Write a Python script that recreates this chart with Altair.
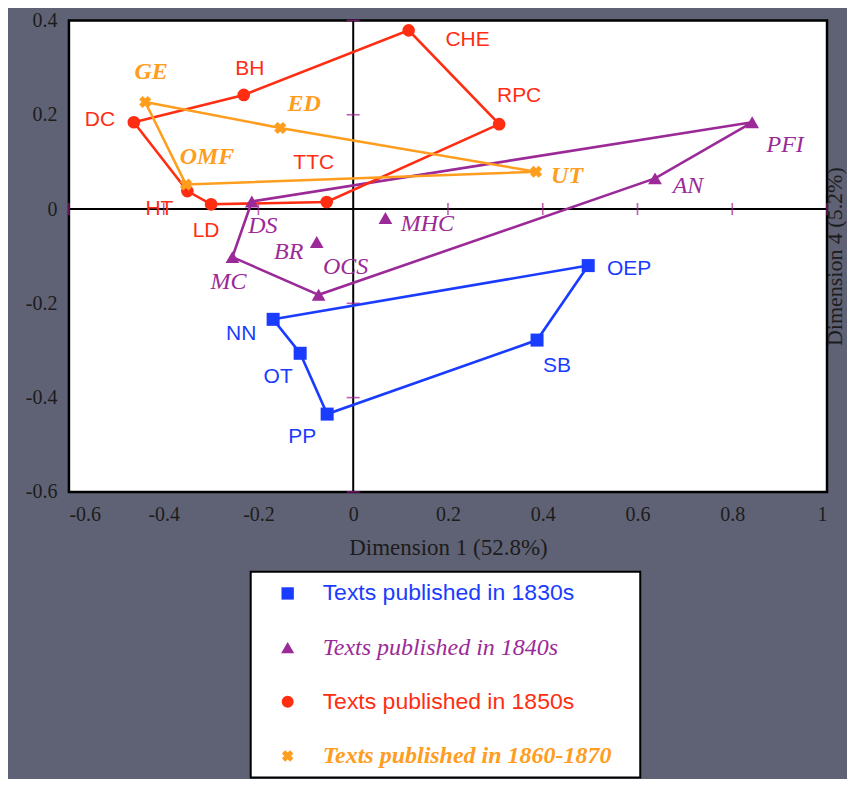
import altair as alt
import pandas as pd

# ---------------- data ----------------
names_1830 = ["NN", "OEP", "SB", "PP", "OT"]
x_1830 = [-0.169, 0.496, 0.388, -0.055, -0.112]
y_1830 = [-0.234, -0.120, -0.278, -0.435, -0.306]
path_1830 = ["NN", "OEP", "SB", "PP", "OT"]

names_1840 = ["DS", "PFI", "AN", "OCS", "MC", "BR", "MHC"]
x_1840 = [-0.214, 0.842, 0.637, -0.073, -0.255, -0.077, 0.068]
y_1840 = [0.016, 0.184, 0.065, -0.182, -0.102, -0.070, -0.019]
path_1840 = ["DS", "PFI", "AN", "OCS", "MC"]

names_1850 = ["DC", "BH", "CHE", "RPC", "TTC", "LD", "HT"]
x_1850 = [-0.463, -0.231, 0.117, 0.308, -0.056, -0.300, -0.350]
y_1850 = [0.184, 0.242, 0.379, 0.180, 0.015, 0.010, 0.038]
path_1850 = ["DC", "BH", "CHE", "RPC", "TTC", "LD", "HT"]

names_1860 = ["GE", "ED", "UT", "OMF"]
x_1860 = [-0.439, -0.154, 0.386, -0.353]
y_1860 = [0.227, 0.172, 0.079, 0.052]
path_1860 = ["GE", "ED", "UT", "OMF"]

legend_labels = [
    "Texts published in 1830s",
    "Texts published in 1840s",
    "Texts published in 1850s",
    "Texts published in 1860-1870",
]
x_ticks = [-0.6, -0.4, -0.2, 0, 0.2, 0.4, 0.6, 0.8, 1]
y_ticks = [-0.6, -0.4, -0.2, 0, 0.2, 0.4]
x_title = "Dimension 1 (52.8%)"
y_title = "Dimension 4 (5.2%)"

# ---------------- styles ----------------
BG = "#5f6274"
TICK = "#a3198f"
SANS = "Liberation Sans"
SERIF = "Liberation Serif"

groups = [
    dict(key="1830s", names=names_1830, xs=x_1830, ys=y_1830, path=path_1830,
         color="#1a3cff", shape="square", size=170, angle=0,
         font=SANS, fstyle="normal", fweight="normal", fsize=21, lsize=23),
    dict(key="1840s", names=names_1840, xs=x_1840, ys=y_1840, path=path_1840,
         color="#9b2a98", shape="triangle-up", size=190, angle=0,
         font=SERIF, fstyle="italic", fweight="normal", fsize=24, lsize=24),
    dict(key="1850s", names=names_1850, xs=x_1850, ys=y_1850, path=path_1850,
         color="#ff2d12", shape="circle", size=160, angle=0,
         font=SANS, fstyle="normal", fweight="normal", fsize=21, lsize=23),
    dict(key="1860s", names=names_1860, xs=x_1860, ys=y_1860, path=path_1860,
         color="#ff9d1e", shape="cross", size=150, angle=45,
         font=SERIF, fstyle="italic", fweight="bold", fsize=24, lsize=24),
]
line_order = ["1840s", "1830s", "1850s", "1860s"]

# label nudges (pixels) relative to each point
label_offsets = {
    "DC": (-34, -2), "BH": (6, -26), "CHE": (59, 10), "RPC": (20, -28),
    "TTC": (-13, -39), "LD": (-5, 27), "HT": (-28, 18),
    "GE": (6, -30), "ED": (24, -24), "OMF": (21, -28), "UT": (31, 4),
    "DS": (11, 25), "MC": (-4, 25), "BR": (-28, 10), "OCS": (27, -28),
    "MHC": (42, 6), "PFI": (33, 23), "AN": (33, 8),
    "OEP": (41, 3), "SB": (20, 26), "NN": (-32, 15), "OT": (-22, 24), "PP": (-25, 23),
}

W, H = 759, 472

# ---------------- tables ----------------
pt_rows, line_rows = [], []
for g in groups:
    lookup = {n: (x, y) for n, x, y in zip(g["names"], g["xs"], g["ys"])}
    for n in g["names"]:
        pt_rows.append(dict(group=g["key"], name=n, x=lookup[n][0], y=lookup[n][1]))
    loop = g["path"] + [g["path"][0]]
    for i, n in enumerate(loop):
        line_rows.append(dict(group=g["key"], ord=i, x=lookup[n][0], y=lookup[n][1]))
df_pts = pd.DataFrame(pt_rows)
df_lines = pd.DataFrame(line_rows)
df_zero = pd.DataFrame({"v": [0]})
df_xt = pd.DataFrame({"v": [t for t in x_ticks if t != 0], "z": 0})
df_yt = pd.DataFrame({"v": [t for t in y_ticks if t != 0], "z": 0})

xs = alt.Scale(domain=[-0.6, 1], nice=False, zero=False)
ys = alt.Scale(domain=[-0.6, 0.4], nice=False, zero=False)

x_axis = alt.Axis(values=x_ticks, title=x_title, labelExpr="'' + datum.value",
                  domain=False, ticks=False, tickSize=0, grid=False,
                  labelPadding=13, titlePadding=12)
y_axis_left = alt.Axis(values=y_ticks, title=None, labelExpr="'' + datum.value",
                       domain=False, ticks=False, tickSize=0, grid=False,
                       labelPadding=12)
y_axis_right = alt.Axis(orient="right", title=y_title, labels=False, domain=False,
                        ticks=False, tickSize=0, grid=False, minExtent=0,
                        titleAngle=270, titleBaseline="middle", titlePadding=7,
                        titleFontSize=22)

# ---------------- main plot ----------------
vrule = alt.Chart(df_zero).mark_rule(color="black", strokeWidth=2).encode(
    x=alt.X("v:Q", scale=xs, axis=x_axis))
hrule = alt.Chart(df_zero).mark_rule(color="black", strokeWidth=2).encode(
    y=alt.Y("v:Q", scale=ys, axis=y_axis_right))
xtick = alt.Chart(df_xt).mark_tick(orient="vertical", size=12, thickness=1.6, color=TICK).encode(
    x=alt.X("v:Q", scale=xs, axis=None), y=alt.Y("z:Q", scale=ys, axis=y_axis_left))
ytick = alt.Chart(df_yt).mark_tick(orient="horizontal", size=13, thickness=1.6, color=TICK).encode(
    y=alt.Y("v:Q", scale=ys, axis=None), x=alt.X("z:Q", scale=xs, axis=None))

layers = [vrule, hrule, xtick, ytick]

gmap = {g["key"]: g for g in groups}
for k in line_order:
    g = gmap[k]
    layers.append(
        alt.Chart(df_lines).transform_filter(alt.datum.group == k)
        .mark_line(strokeWidth=2.6, color=g["color"])
        .encode(x=alt.X("x:Q", scale=xs, axis=None),
                y=alt.Y("y:Q", scale=ys, axis=None),
                order="ord:Q")
    )

for g in groups:
    layers.append(
        alt.Chart(df_pts).transform_filter(alt.datum.group == g["key"])
        .mark_point(shape=g["shape"], size=g["size"], angle=g["angle"], filled=True,
                    opacity=1, color=g["color"])
        .encode(x=alt.X("x:Q", scale=xs, axis=None), y=alt.Y("y:Q", scale=ys, axis=None))
    )
    for n in g["names"]:
        dx, dy = label_offsets[n]
        layers.append(
            alt.Chart(df_pts).transform_filter(alt.datum.name == n)
            .mark_text(dx=dx, dy=dy, align="center", baseline="middle",
                       font=g["font"], fontStyle=g["fstyle"], fontWeight=g["fweight"],
                       fontSize=g["fsize"], color=g["color"])
            .encode(x=alt.X("x:Q", scale=xs, axis=None), y=alt.Y("y:Q", scale=ys, axis=None),
                    text="name:N")
        )

main = alt.layer(*layers).resolve_axis(x="independent", y="independent").properties(
    width=W, height=H,
    view=alt.ViewBackground(fill="white", stroke="black", strokeWidth=2.5),
)

# ---------------- legend panel ----------------
df_leg = pd.DataFrame({"label": legend_labels, "group": [g["key"] for g in groups]})
ly = alt.Y("label:N", scale=alt.Scale(domain=legend_labels, type="point", padding=0.4), axis=None)
leg_layers = []
for g in groups:
    leg_layers.append(
        alt.Chart(df_leg).transform_filter(alt.datum.group == g["key"])
        .mark_point(shape=g["shape"], size=g["size"] * 0.9, angle=g["angle"], filled=True,
                    opacity=1, color=g["color"])
        .encode(x=alt.value(37), y=ly)
    )
    leg_layers.append(
        alt.Chart(df_leg).transform_filter(alt.datum.group == g["key"])
        .mark_text(align="left", baseline="middle", font=g["font"], fontStyle=g["fstyle"],
                   fontWeight=g["fweight"], fontSize=g["lsize"], color=g["color"])
        .encode(x=alt.value(72), y=ly, text="label:N")
    )
legend = alt.layer(*leg_layers).properties(
    width=390, height=206,
    view=alt.ViewBackground(fill="white", stroke="black", strokeWidth=2),
)
spacer = alt.Chart(df_zero).mark_point(opacity=0).encode(
    x=alt.value(0), y=alt.value(0)).properties(
    width=160, height=10,
    view=alt.ViewBackground(fill="transparent", stroke="transparent"))
legend_row = alt.hconcat(spacer, legend, spacing=20)

chart = (
    alt.vconcat(main, legend_row, spacing=6)
    .properties(background=BG, padding={"left": 16, "top": 0, "right": 0, "bottom": 0})
    .configure_view(stroke="transparent")
    .configure_axis(labelFont=SERIF, labelFontSize=20, labelColor="#1c1c1c",
                    titleFont=SERIF, titleFontSize=23, titleFontWeight="normal",
                    titleColor="#1c1c1c")
)

chart.save("out.html", embed_options={"renderer": "svg", "actions": False})
